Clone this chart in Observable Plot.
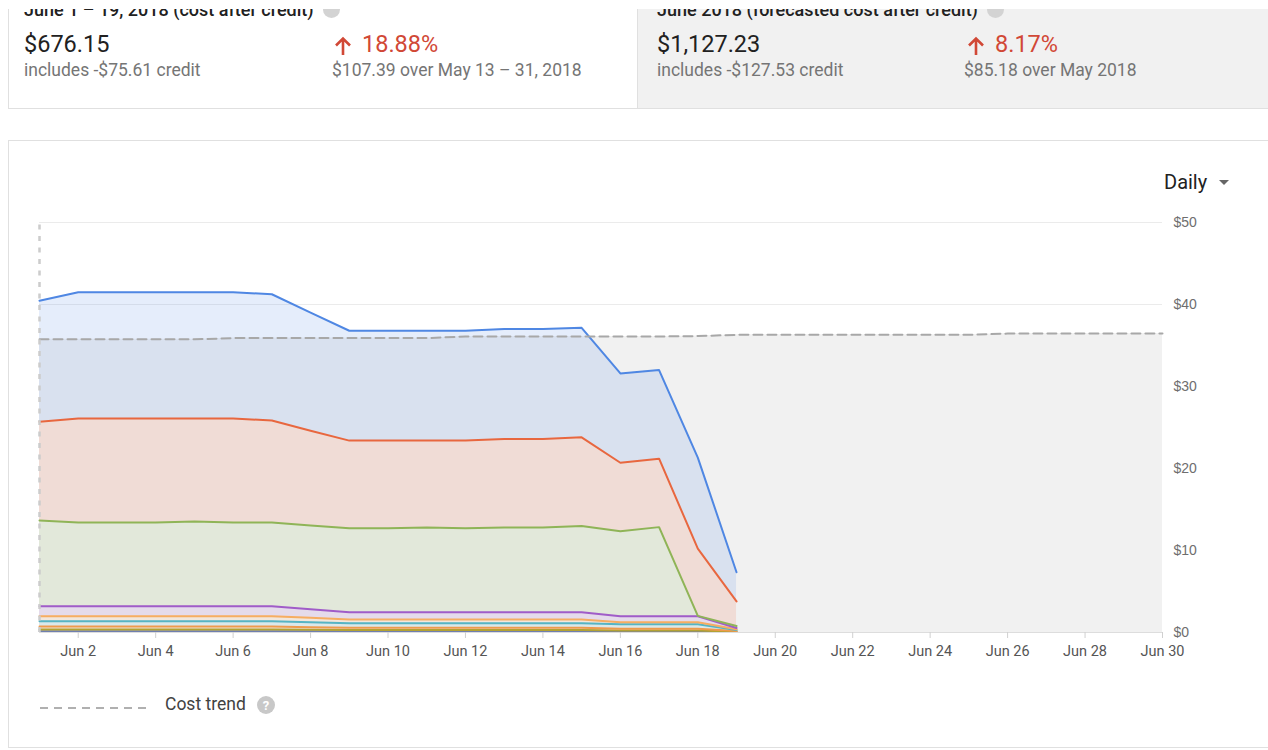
<!DOCTYPE html>
<html>
<head>
<meta charset="utf-8">
<script src="https://cdn.jsdelivr.net/npm/d3@7"></script>
<script src="https://cdn.jsdelivr.net/npm/@observablehq/plot@0.6"></script>
<style>
  html, body { margin: 0; padding: 0; background: #fff; }
  body { width: 1268px; height: 750px; position: relative; overflow: hidden; font-family: Roboto, "Noto Sans", sans-serif; }
  .abs { position: absolute; }
  .band { left: 0; top: 0; width: 1268px; height: 9px; background: #fff; }
  .cardL { left: 8px; top: -20px; width: 630px; height: 129px; background: #fff; border: 1px solid #e0e0e0; border-top: none; box-sizing: border-box; }
  .cardR { left: 638px; top: 9px; width: 640px; height: 99px; background: #f1f1f1; border-bottom: 1px solid #e0e0e0; box-sizing: content-box; }
  .title { font-size: 18px; font-weight: 500; color: #212121; line-height: 18px; white-space: nowrap; }
  .info { display: inline-block; width: 17px; height: 17px; border-radius: 50%; background: #d3d3d3; vertical-align: -2px; margin-left: 9px; }
  .big { font-size: 23.5px; color: #212121; line-height: 23.5px; white-space: nowrap; }
  .sub { font-size: 17.5px; color: #757575; line-height: 17.5px; white-space: nowrap; }
  .pct { font-size: 23.5px; color: #d14836; line-height: 23.5px; white-space: nowrap; }
  .chartCard { left: 8px; top: 140px; width: 1270px; height: 608px; border: 1px solid #e0e0e0; box-sizing: border-box; background: #fff; }
  .daily { left: 1164px; top: 172px; font-size: 20px; color: #212121; line-height: 20px; }
  #plot { left: 0; top: 160px; }
  .legendTxt { left: 165px; top: 696px; font-size: 17.5px; color: #424242; line-height: 17.5px; }
</style>
</head>
<body>
<div class="abs cardL"></div>
<div class="abs cardR"></div>

<div class="abs title" style="left:24px; top:1px;">June 1 – 19, 2018 (cost after credit)<span class="info"></span></div>
<div class="abs title" style="left:657px; top:1px;">June 2018 (forecasted cost after credit)<span class="info"></span></div>
<div class="band abs" style="z-index:6;"></div>

<div class="abs big" style="left:24px; top:33px;">$676.15</div>
<div class="abs sub" style="left:24px; top:62px;">includes -$75.61 credit</div>
<svg class="abs" style="left:333px; top:35px;" width="20" height="22"><path d="M10,20 L10,4 M3,10.5 L10,3.5 L17,10.5" fill="none" stroke="#d14836" stroke-width="2.6"/></svg>
<div class="abs pct" style="left:362px; top:33px;">18.88%</div>
<div class="abs sub" style="left:332px; top:62px;">$107.39 over May 13 – 31, 2018</div>

<div class="abs big" style="left:657px; top:33px;">$1,127.23</div>
<div class="abs sub" style="left:657px; top:62px;">includes -$127.53 credit</div>
<svg class="abs" style="left:966px; top:35px;" width="20" height="22"><path d="M10,20 L10,4 M3,10.5 L10,3.5 L17,10.5" fill="none" stroke="#d14836" stroke-width="2.6"/></svg>
<div class="abs pct" style="left:995px; top:33px;">8.17%</div>
<div class="abs sub" style="left:964px; top:62px;">$85.18 over May 2018</div>

<div class="abs chartCard"></div>
<div class="abs daily">Daily</div>
<svg class="abs" style="left:1218px; top:178px;" width="14" height="10"><path d="M1,2 L11,2 L6,7 Z" fill="#666"/></svg>

<div id="plot" class="abs"></div>

<svg class="abs" style="left:36px; top:694px;" width="250" height="24">
  <line x1="4" y1="14" x2="114" y2="14" stroke="#b0b0b0" stroke-width="2" stroke-dasharray="8,6"/>
  <circle cx="230" cy="11" r="9" fill="#c8c8c8"/>
  <text x="230" y="15.5" text-anchor="middle" font-family="Roboto" font-weight="700" font-size="13" fill="#fff">?</text>
</svg>
<div class="abs legendTxt">Cost trend</div>

<script>
// ---- Data ----
const days = ["2018-06-01","2018-06-02","2018-06-03","2018-06-04","2018-06-05","2018-06-06","2018-06-07","2018-06-08","2018-06-09","2018-06-10","2018-06-11","2018-06-12","2018-06-13","2018-06-14","2018-06-15","2018-06-16","2018-06-17","2018-06-18","2018-06-19"];
const trendDays = ["2018-06-01","2018-06-02","2018-06-03","2018-06-04","2018-06-05","2018-06-06","2018-06-07","2018-06-08","2018-06-09","2018-06-10","2018-06-11","2018-06-12","2018-06-13","2018-06-14","2018-06-15","2018-06-16","2018-06-17","2018-06-18","2018-06-19","2018-06-20","2018-06-21","2018-06-22","2018-06-23","2018-06-24","2018-06-25","2018-06-26","2018-06-27","2018-06-28","2018-06-29","2018-06-30"];
const trendValues = [35.75,35.75,35.75,35.75,35.75,35.9,35.9,35.9,35.9,35.9,35.9,36.1,36.1,36.1,36.1,36.1,36.1,36.15,36.3,36.3,36.3,36.3,36.3,36.3,36.3,36.45,36.45,36.45,36.45,36.45];

// series listed bottom to top of the stack
const seriesNames = ["Service I","Service H","Service G","Service F","Service E","Service D","Service C","Service B","Service A"];
const seriesColors = ["#6f7fb0","#b3a232","#ee9a4d","#56b4c3","#f6ad62","#a05cc8","#8fb457","#e8673f","#4f87e3"];
const serviceI = [0.15,0.15,0.15,0.15,0.15,0.15,0.15,0.14,0.13,0.13,0.13,0.13,0.13,0.13,0.13,0.12,0.12,0.12,0.05];
const serviceH = [0.22,0.22,0.22,0.22,0.22,0.22,0.22,0.19,0.17,0.17,0.17,0.17,0.17,0.17,0.17,0.13,0.13,0.13,0.05];
const serviceG = [0.36,0.36,0.36,0.36,0.36,0.36,0.36,0.32,0.27,0.27,0.27,0.27,0.27,0.27,0.27,0.2,0.2,0.2,0.08];
const serviceF = [0.65,0.65,0.65,0.65,0.65,0.65,0.65,0.6,0.55,0.55,0.55,0.55,0.55,0.55,0.55,0.55,0.55,0.55,0.12];
const serviceE = [0.61,0.61,0.61,0.61,0.61,0.61,0.61,0.55,0.48,0.48,0.48,0.48,0.48,0.48,0.48,0.25,0.25,0.25,0.1];
const serviceD = [1.21,1.21,1.21,1.21,1.21,1.21,1.21,1.05,0.88,0.88,0.88,0.88,0.88,0.88,0.88,0.73,0.73,0.73,0.15];
const serviceC = [10.45,10.2,10.2,10.2,10.35,10.2,10.2,10.2,10.22,10.22,10.32,10.22,10.32,10.32,10.52,10.37,10.87,0.05,0.25];
const serviceB = [12.05,12.7,12.7,12.7,12.55,12.7,12.45,11.55,10.7,10.7,10.6,10.7,10.8,10.8,10.8,8.35,8.35,8.2,3.0];
const serviceA = [14.75,15.4,15.4,15.4,15.4,15.4,15.4,14.4,13.4,13.4,13.4,13.4,13.4,13.4,13.35,10.9,10.8,11.1,3.55];
const seriesValues = [serviceI, serviceH, serviceG, serviceF, serviceE, serviceD, serviceC, serviceB, serviceA];

const yTicks = [0,10,20,30,40,50];
const xTicks = ["2018-06-02","2018-06-04","2018-06-06","2018-06-08","2018-06-10","2018-06-12","2018-06-14","2018-06-16","2018-06-18","2018-06-20","2018-06-22","2018-06-24","2018-06-26","2018-06-28","2018-06-30"];

// ---- Build tables ----
const parse = d3.utcParse("%Y-%m-%d");
const table = [];
seriesNames.forEach((name, i) => {
  days.forEach((d, j) => table.push({date: parse(d), series: name, value: seriesValues[i][j]}));
});
const trend = trendDays.map((d, j) => ({date: parse(d), value: trendValues[j]}));

const chart = Plot.plot({
  width: 1268,
  height: 520,
  marginLeft: 39,
  marginRight: 106,
  marginTop: 62,
  marginBottom: 48,
  style: {background: "transparent", fontFamily: "Roboto, sans-serif", overflow: "visible"},
  x: {type: "utc", domain: [parse("2018-06-01"), parse("2018-06-30")]},
  y: {domain: [0, 50]},
  color: {domain: seriesNames, range: seriesColors},
  marks: [
    Plot.gridY(yTicks, {stroke: "#ebebeb", strokeOpacity: 1}),
    Plot.areaY(trend, {x: "date", y: "value", fill: "#f1f1f1"}),
    Plot.areaY(table, {x: "date", y: "value", z: "series", fill: "series", fillOpacity: 0.15, order: seriesNames}),
    Plot.lineY(table, Plot.stackY2({x: "date", y: "value", z: "series", stroke: "series", strokeWidth: 2, order: seriesNames})),
    Plot.ruleY([0], {stroke: "#dddddd"}),
    Plot.lineY(trend, {x: "date", y: "value", stroke: "#a8a8a8", strokeWidth: 2, strokeDasharray: "9,5"}),
    Plot.ruleX([parse("2018-06-01")], {y1: 0, y2: 50, stroke: "#cccccc", strokeWidth: 2.5, strokeDasharray: "5,6.5"}),
    Plot.axisX(xTicks.map(parse), {tickFormat: d3.utcFormat("%b %-d"), tickSize: 6, tickPadding: 7, stroke: "#d0d0d0", fill: "#555555", fontSize: 14.5, label: null}),
    Plot.axisY(yTicks, {anchor: "right", tickFormat: d => "$" + d, tickSize: 0, tickPadding: 11, fill: "#6e6e6e", fontSize: 14, fontFamily: "Liberation Sans, Arial, sans-serif", label: null})
  ]
});
document.getElementById("plot").appendChild(chart);
</script>
</body>
</html>
